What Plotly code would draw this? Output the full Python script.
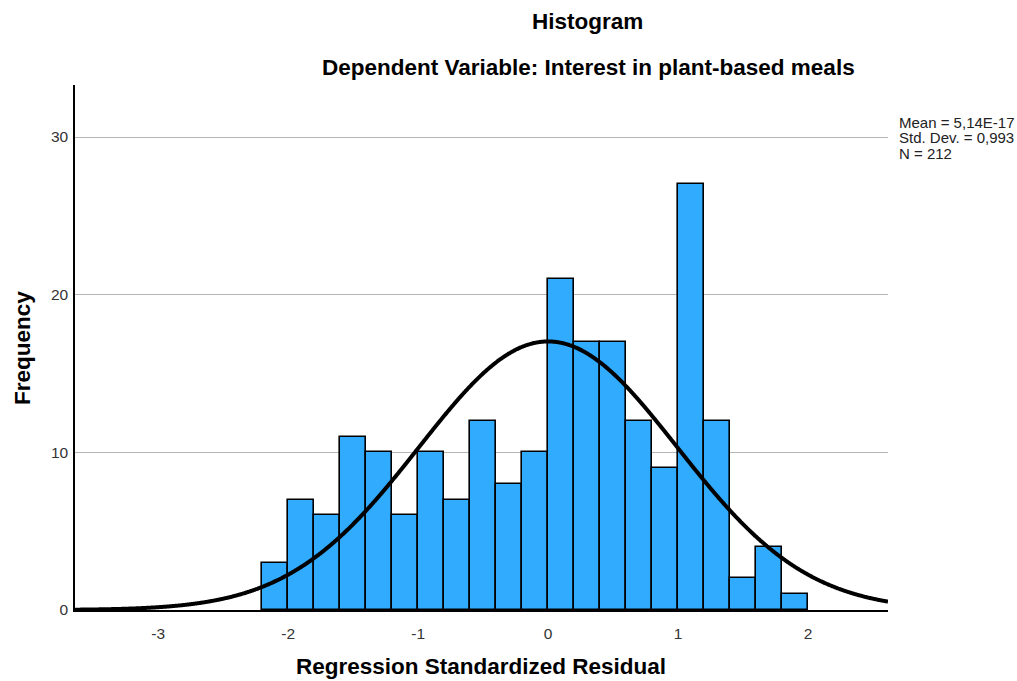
import numpy as np
import plotly.graph_objects as go

# Data
bin_start = -2.2
bin_width = 0.2
counts = [3, 7, 6, 11, 10, 6, 10, 7, 12, 8, 10, 21, 17, 17, 12, 9, 27, 12, 2, 4, 1]
mean_val = 5.14e-17
std_val = 0.993
n_val = 212
y_ticks = [0, 10, 20, 30]
x_ticks = [-3, -2, -1, 0, 1, 2]
legend_lines = ["Mean = 5,14E-17", "Std. Dev. = 0,993", "N = 212"]

centers = [bin_start + bin_width * (i + 0.5) for i in range(len(counts))]

x_min, x_max = -3.64, 2.615
xs = np.linspace(x_min, x_max, 800)
ys = n_val * bin_width * np.exp(-0.5 * ((xs - mean_val) / std_val) ** 2) / (std_val * np.sqrt(2 * np.pi))

fig = go.Figure()
fig.add_trace(go.Bar(x=centers, y=counts, width=bin_width,
                     marker=dict(color="#31ABFE", line=dict(color="black", width=1.6)),
                     showlegend=False, hoverinfo="skip"))
fig.add_trace(go.Scatter(x=xs, y=ys, mode="lines",
                         line=dict(color="black", width=4, simplify=False, shape="spline"),
                         showlegend=False, hoverinfo="skip"))

L, R, T, B = 75, 888, 85, 610
PW, PH = R - L, B - T

def px(x):
    return (x - L) / PW

def py(y):
    return (B - y) / PH

font = "Liberation Sans, Arial, sans-serif"
annotations = [
    dict(text="<b>Histogram</b>", x=px(587), y=py(22),
         xanchor="center", yanchor="middle", font=dict(size=22.5, color="black")),
    dict(text="<b>Dependent Variable: Interest in plant-based meals</b>", x=px(588), y=py(67),
         xanchor="center", yanchor="middle", font=dict(size=22.5, color="black")),
    dict(text="<b>Regression Standardized Residual</b>", x=px(481), y=py(666),
         xanchor="center", yanchor="middle", font=dict(size=22.5, color="black")),
    dict(text="<b>Frequency</b>", x=px(22), y=py(348), textangle=-90,
         xanchor="center", yanchor="middle", font=dict(size=22.5, color="black")),
]
for i, t in enumerate(legend_lines):
    annotations.append(dict(text=t, x=px(897), y=py(122 + 15.5 * i), xanchor="left", yanchor="middle",
                            font=dict(size=15, color="#222222")))
for a in annotations:
    a.update(xref="paper", yref="paper", showarrow=False)

fig.update_layout(
    width=1017, height=681,
    margin=dict(l=L, r=1017 - R, t=T, b=681 - B, autoexpand=False),
    paper_bgcolor="white", plot_bgcolor="white",
    bargap=0,
    font=dict(family=font, color="#222222"),
    xaxis=dict(range=[x_min, x_max], tickvals=x_ticks, ticktext=[str(v) for v in x_ticks],
               showgrid=False, zeroline=False, showline=True, linecolor="black", linewidth=2,
               ticks="", tickfont=dict(size=15.5, color="#333333"), ticklabelstandoff=8,
               automargin=False),
    yaxis=dict(range=[0, 33.3], tickvals=y_ticks, ticktext=[str(v) for v in y_ticks],
               showgrid=True, gridcolor="#b5b5b5", gridwidth=1, zeroline=False,
               showline=True, linecolor="black", linewidth=1.5,
               ticks="", tickfont=dict(size=15.5, color="#333333"), ticklabelstandoff=2,
               automargin=False),
    annotations=annotations,
)

fig.write_html("out.html")
